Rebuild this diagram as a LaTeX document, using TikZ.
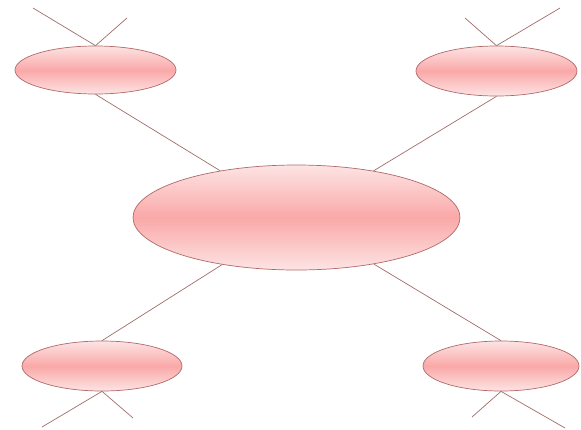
\documentclass[tikz,border=0pt]{standalone}
\usetikzlibrary{shapes.geometric}
\definecolor{rim}{RGB}{178,105,105}
\definecolor{wire}{RGB}{160,110,105}
\definecolor{midpink}{RGB}{250,168,168}
\definecolor{edgepink}{RGB}{253,228,228}
\tikzset{
  blob/.style={ellipse, draw=rim, line width=0.7pt, inner sep=0pt,
    top color=edgepink, bottom color=edgepink, middle color=midpink},
  wireline/.style={draw=wire, line width=0.7pt}
}
\begin{document}
\begin{tikzpicture}[x=1pt,y=-1pt]
\useasboundingbox[fill=white] (0,0) rectangle (581,429);
\node[blob, minimum width=327pt, minimum height=105pt] (c) at (296.5,217.5) {};
\node[blob, minimum width=161pt, minimum height=48pt] (tl) at (95.5,70) {};
\node[blob, minimum width=161pt, minimum height=50pt] (tr) at (496.5,71) {};
\node[blob, minimum width=160pt, minimum height=50pt] (bl) at (102,366) {};
\node[blob, minimum width=156pt, minimum height=50pt] (br) at (501,366) {};
\coordinate (tla) at (33,8);
\coordinate (tlb) at (127,18);
\coordinate (tra) at (465,18);
\coordinate (trb) at (560,8);
\coordinate (bla) at (42,427);
\coordinate (blb) at (133,418);
\coordinate (bra) at (472,417);
\coordinate (brb) at (565,428);
\draw[wireline] (tl.north) -- (tla);
\draw[wireline] (tl.north) -- (tlb);
\draw[wireline] (tr.north) -- (tra);
\draw[wireline] (tr.north) -- (trb);
\draw[wireline] (bl.south) -- (bla);
\draw[wireline] (bl.south) -- (blb);
\draw[wireline] (br.south) -- (bra);
\draw[wireline] (br.south) -- (brb);
\draw[wireline] (tl.south) -- (c);
\draw[wireline] (tr.south) -- (c);
\draw[wireline] (bl.north) -- (c);
\draw[wireline] (br.north) -- (c);
\end{tikzpicture}
\end{document}
